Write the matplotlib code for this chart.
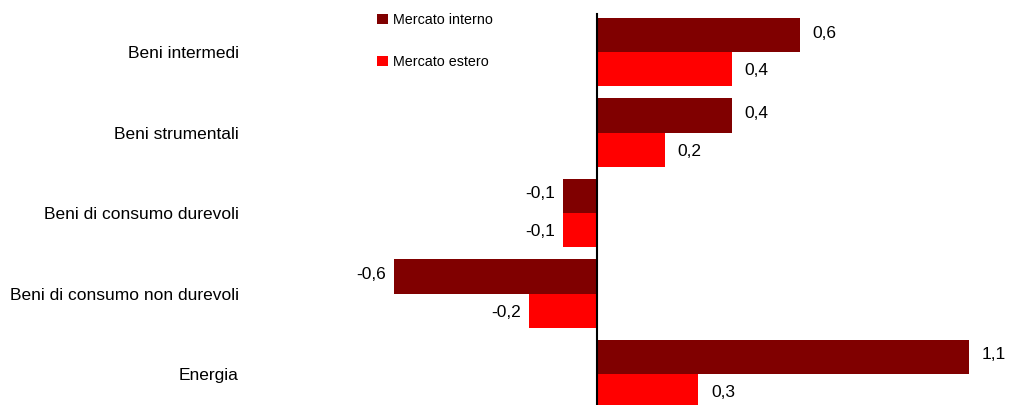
import matplotlib.pyplot as plt
import numpy as np

plt.rcParams['font.family'] = ['Liberation Sans', 'DejaVu Sans']

categories = ["Beni intermedi", "Beni strumentali", "Beni di consumo durevoli",
              "Beni di consumo non durevoli", "Energia"]
interno = [0.6, 0.4, -0.1, -0.6, 1.1]
estero = [0.4, 0.2, -0.1, -0.2, 0.3]
series_names = ["Mercato interno", "Mercato estero"]
colors = ["#800000", "#FF0000"]

W, H = 1017, 405
fig = plt.figure(figsize=(W / 100, H / 100), dpi=100)
ax = fig.add_axes([250 / W, 0, (W - 250) / W, (H - 12) / H])

y = np.arange(len(categories))
h = 0.425
bars1 = ax.barh(y - h / 2, interno, height=h, color=colors[0], label=series_names[0])
bars2 = ax.barh(y + h / 2, estero, height=h, color=colors[1], label=series_names[1])

# etichette valori, formato italiano con virgola
for bars, vals, dy in [(bars1, interno, 1.5), (bars2, estero, -1.0)]:
    for b, v in zip(bars, vals):
        yc = b.get_y() + b.get_height() / 2
        txt = f"{v:.1f}".replace(".", ",")
        if v >= 0:
            ax.annotate(txt, (v, yc), xytext=(9, dy), textcoords="offset points",
                        ha="left", va="center", fontsize=12.5)
        else:
            ax.annotate(txt, (v, yc), xytext=(-6, dy), textcoords="offset points",
                        ha="right", va="center", fontsize=12.5)

ax.set_xlim((250 - 597) / 338, (W - 597) / 338)
ax.set_ylim(4.385, -0.5)
ax.axvline(0, color="black", lw=1.5, ymax=0.995)

ax.set_yticks(y)
ax.set_yticklabels(categories, fontsize=12.5)
ax.tick_params(axis="y", length=0, pad=8)
ax.set_xticks([])
for s in ax.spines.values():
    s.set_visible(False)

fig.legend(loc="upper left", bbox_to_anchor=(377 / W, 1 - 13 / H), frameon=False,
           fontsize=10.3, labelspacing=1.95, handlelength=0.75, handleheight=0.75,
           handletextpad=0.35, borderaxespad=0, borderpad=0)

fig.savefig("out.png", dpi=100)
